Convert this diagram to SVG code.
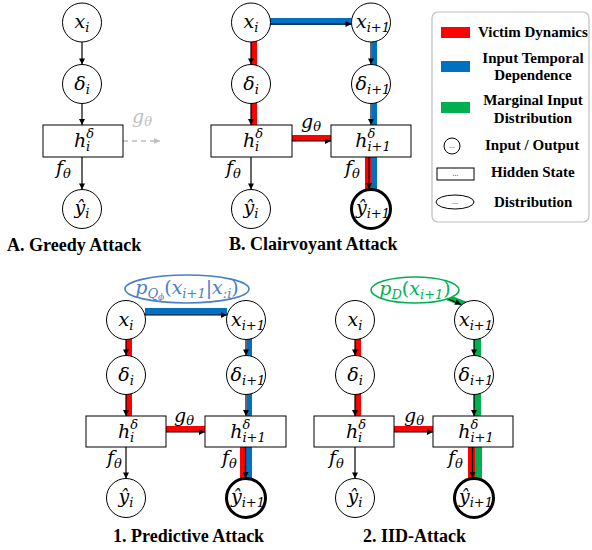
<svg xmlns="http://www.w3.org/2000/svg" width="592" height="550" viewBox="0 0 592 550">
<style>
.nd{fill:#fff;stroke:#000;stroke-width:1}
.bold{stroke-width:3}
.m{font-family:"DejaVu Serif",serif;font-style:italic;font-size:19px;fill:#000}
.s{font-size:13px}
.t{font-family:"Liberation Serif",serif;font-weight:bold;font-size:18px;fill:#000}
.lg{font-family:"Liberation Serif",serif;font-weight:bold;font-size:15px;fill:#000}
.ar{stroke:#000;stroke-width:1.2;fill:none;marker-end:url(#ah)}
.red{fill:#FF0000}
.blue{fill:#0070C0}
.green{fill:#00B050}
</style>
<defs>
<marker id="ah" viewBox="0 0 10 10" refX="10" refY="5" markerWidth="7" markerHeight="6" orient="auto" markerUnits="userSpaceOnUse"><path d="M0,0 L10,5 L0,10 z" fill="#000"/></marker>
<marker id="ahg" viewBox="0 0 10 10" refX="10" refY="5" markerWidth="7" markerHeight="6" orient="auto" markerUnits="userSpaceOnUse"><path d="M0,0 L10,5 L0,10 z" fill="#BFBFBF"/></marker>
</defs>
<rect width="592" height="550" fill="#fff"/>

<!-- connectors: colored bands and arrows -->
<g id="connectors">
  <!-- Panel B bands -->
  <rect class="blue" x="270" y="18" width="82" height="7"/>
  <rect class="red" x="251" y="22" width="6" height="103"/>
  <rect class="blue" x="372" y="22" width="5" height="103"/>
  <rect class="red" x="365" y="157" width="6" height="51"/>
  <rect class="blue" x="371" y="157" width="6" height="51"/>
  <rect class="red" x="292" y="135" width="39" height="6"/>
  <!-- Panel 1 bands -->
  <rect class="blue" x="145" y="308" width="82" height="7"/>
  <rect class="red" x="126" y="320" width="6" height="96"/>
  <rect class="blue" x="247" y="320" width="5" height="96"/>
  <rect class="red" x="240" y="447" width="6" height="51"/>
  <rect class="blue" x="246" y="447" width="6" height="51"/>
  <rect class="red" x="166" y="426" width="39" height="6"/>
  <!-- Panel 2 bands -->
  <line x1="444" y1="296" x2="472" y2="307" stroke="#00B050" stroke-width="6"/>
  <rect class="green" x="474" y="320" width="7" height="96"/>
  <rect class="red" x="355" y="320" width="6" height="96"/>
  <rect class="red" x="468" y="447" width="7" height="51"/>
  <rect class="green" x="475" y="447" width="7" height="51"/>
  <rect class="red" x="394" y="426" width="39" height="6"/>

  <!-- Panel A arrows -->
  <line class="ar" x1="82" y1="42" x2="82" y2="64.5"/>
  <line class="ar" x1="82" y1="103.5" x2="82" y2="125"/>
  <line class="ar" x1="82" y1="157" x2="82" y2="189.5"/>
  <line x1="123" y1="141" x2="160" y2="141" stroke="#BFBFBF" stroke-width="1.5" stroke-dasharray="5,4" marker-end="url(#ahg)"/>
  <!-- Panel B arrows -->
  <line class="ar" x1="270.5" y1="24" x2="351.5" y2="24"/>
  <line class="ar" x1="251" y1="42" x2="251" y2="64.5"/>
  <line class="ar" x1="251" y1="103.5" x2="251" y2="125"/>
  <line class="ar" x1="251" y1="157" x2="251" y2="189.5"/>
  <line class="ar" x1="371" y1="42" x2="371" y2="64.5"/>
  <line class="ar" x1="371" y1="103.5" x2="371" y2="125"/>
  <line class="ar" x1="369" y1="157" x2="369" y2="189"/>
  <line class="ar" x1="292" y1="141" x2="331" y2="141"/>
  <!-- Panel 1 arrows -->
  <line class="ar" x1="145" y1="315" x2="227" y2="315"/>
  <line class="ar" x1="126" y1="339.5" x2="126" y2="355.5"/>
  <line class="ar" x1="126" y1="394.5" x2="126" y2="416"/>
  <line class="ar" x1="126" y1="447" x2="126" y2="478.5"/>
  <line class="ar" x1="246" y1="339.5" x2="246" y2="355.5"/>
  <line class="ar" x1="246" y1="394.5" x2="246" y2="416"/>
  <line class="ar" x1="245.5" y1="447" x2="245.5" y2="478"/>
  <line class="ar" x1="166" y1="432" x2="205" y2="432"/>
  <!-- Panel 2 arrows -->
  <line class="ar" x1="446" y1="298" x2="461" y2="304.5"/>
  <line class="ar" x1="355" y1="339.5" x2="355" y2="355.5"/>
  <line class="ar" x1="355" y1="394.5" x2="355" y2="416"/>
  <line class="ar" x1="355" y1="447" x2="355" y2="478.5"/>
  <line class="ar" x1="474" y1="339.5" x2="474" y2="355.5"/>
  <line class="ar" x1="474" y1="394.5" x2="474" y2="416"/>
  <line class="ar" x1="472.5" y1="447" x2="472.5" y2="478"/>
  <line class="ar" x1="394" y1="432" x2="433" y2="432"/>
</g>

<!-- Panel A -->
<g id="A_x"><circle class="nd" cx="82" cy="22.5" r="19.5"/><text class="m" x="82" y="28" text-anchor="middle">x<tspan class="s" dy="4">i</tspan></text></g>
<g id="A_d"><circle class="nd" cx="82" cy="84" r="19.5"/><text class="m" x="82" y="90" text-anchor="middle">δ<tspan class="s" dy="4">i</tspan></text></g>
<g id="A_h"><rect class="nd" x="43" y="125" width="80" height="32"/><text class="m" x="84" y="147" text-anchor="middle">h<tspan class="s" dy="-9">δ</tspan><tspan class="s" dx="-8" dy="13">i</tspan></text></g>
<g id="A_y"><circle class="nd" cx="82" cy="209" r="19.5"/><text class="m" x="82" y="214" text-anchor="middle">ŷ<tspan class="s" dy="4">i</tspan></text></g>
<g id="A_labels">
  <text class="m" x="56" y="174">f<tspan class="s" dy="4">θ</tspan></text>
  <text class="m" x="132" y="123" style="fill:#BFBFBF">g<tspan class="s" dy="3">θ</tspan></text>
  <text class="t" x="7" y="251">A. Greedy Attack</text>
</g>

<!-- Panel B -->
<g id="B_x1"><circle class="nd" cx="251" cy="22.5" r="19.5"/><text class="m" x="251" y="28" text-anchor="middle">x<tspan class="s" dy="4">i</tspan></text></g>
<g id="B_x2"><circle class="nd" cx="371" cy="22.5" r="19.5"/><text class="m" x="373" y="28" text-anchor="middle">x<tspan class="s" dy="4">i+1</tspan></text></g>
<g id="B_d1"><circle class="nd" cx="251" cy="84" r="19.5"/><text class="m" x="251" y="90" text-anchor="middle">δ<tspan class="s" dy="4">i</tspan></text></g>
<g id="B_d2"><circle class="nd" cx="371" cy="84" r="19.5"/><text class="m" x="373" y="90" text-anchor="middle">δ<tspan class="s" dy="4">i+1</tspan></text></g>
<g id="B_h1"><rect class="nd" x="211" y="125" width="81" height="32"/><text class="m" x="253" y="147" text-anchor="middle">h<tspan class="s" dy="-9">δ</tspan><tspan class="s" dx="-8" dy="13">i</tspan></text></g>
<g id="B_h2"><rect class="nd" x="331" y="125" width="80" height="32"/><text class="m" x="373" y="147" text-anchor="middle">h<tspan class="s" dy="-9">δ</tspan><tspan class="s" dx="-8" dy="13">i+1</tspan></text></g>
<g id="B_y1"><circle class="nd" cx="251" cy="209" r="19.5"/><text class="m" x="251" y="214" text-anchor="middle">ŷ<tspan class="s" dy="4">i</tspan></text></g>
<g id="B_y2"><circle class="nd bold" cx="371" cy="209" r="19.5"/><text class="m" x="373" y="214" text-anchor="middle">ŷ<tspan class="s" dy="4">i+1</tspan></text></g>
<g id="B_labels">
  <text class="m" x="226" y="174">f<tspan class="s" dy="4">θ</tspan></text>
  <text class="m" x="345" y="174">f<tspan class="s" dy="4">θ</tspan></text>
  <text class="m" x="301" y="128">g<tspan class="s" dy="3">θ</tspan></text>
  <text class="t" x="229" y="250">B. Clairvoyant Attack</text>
</g>

<!-- Legend -->
<g id="legend">
  <rect x="432" y="12" width="157" height="210" rx="6" fill="#fff" stroke="#BFBFBF" stroke-width="1.2"/>
  <rect class="red" x="441" y="27" width="29" height="11"/>
  <text class="lg" x="478" y="37">Victim Dynamics</text>
  <rect class="blue" x="441" y="61" width="29" height="11"/>
  <text class="lg" x="533" y="63" text-anchor="middle">Input Temporal</text>
  <text class="lg" x="533" y="80" text-anchor="middle">Dependence</text>
  <rect class="green" x="441" y="102" width="29" height="11"/>
  <text class="lg" x="533" y="105" text-anchor="middle">Marginal Input</text>
  <text class="lg" x="533" y="123" text-anchor="middle">Distribution</text>
  <circle cx="452" cy="146" r="8" fill="#fff" stroke="#000"/>
  <text x="452" y="148" text-anchor="middle" font-family="Liberation Sans,sans-serif" font-size="7">...</text>
  <text class="lg" x="485" y="150">Input / Output</text>
  <rect x="437" y="168" width="37" height="12" fill="#fff" stroke="#000"/>
  <text x="455.5" y="176" text-anchor="middle" font-family="Liberation Sans,sans-serif" font-size="7">...</text>
  <text class="lg" x="491" y="177">Hidden State</text>
  <ellipse cx="455" cy="202" rx="19" ry="7" fill="#fff" stroke="#000"/>
  <text x="455" y="204" text-anchor="middle" font-family="Liberation Sans,sans-serif" font-size="7">...</text>
  <text class="lg" x="494" y="207">Distribution</text>
</g>

<!-- Panel 1 -->
<g id="P1_q"><ellipse cx="187" cy="289" rx="62" ry="14" fill="#fff" stroke="#4A7EC8" stroke-width="1.6"/><text class="m" x="187" y="294" text-anchor="middle" style="fill:#4A7EC8">p<tspan class="s" dy="4">Q</tspan><tspan font-size="9" dy="2">ϕ</tspan><tspan dy="-6" font-style="normal">(</tspan>x<tspan class="s" dy="4">i+1</tspan><tspan dy="-4" font-style="normal">|</tspan>x<tspan class="s" dy="4">:i</tspan><tspan dy="-4" font-style="normal">)</tspan></text></g>
<g id="P1_x1"><circle class="nd" cx="126" cy="320" r="19.5"/><text class="m" x="126" y="326" text-anchor="middle">x<tspan class="s" dy="4">i</tspan></text></g>
<g id="P1_x2"><circle class="nd" cx="246" cy="320" r="19.5"/><text class="m" x="248" y="326" text-anchor="middle">x<tspan class="s" dy="4">i+1</tspan></text></g>
<g id="P1_d1"><circle class="nd" cx="126" cy="375" r="19.5"/><text class="m" x="126" y="381" text-anchor="middle">δ<tspan class="s" dy="4">i</tspan></text></g>
<g id="P1_d2"><circle class="nd" cx="246" cy="375" r="19.5"/><text class="m" x="248" y="381" text-anchor="middle">δ<tspan class="s" dy="4">i+1</tspan></text></g>
<g id="P1_h1"><rect class="nd" x="86" y="416" width="80" height="31"/><text class="m" x="128" y="438" text-anchor="middle">h<tspan class="s" dy="-9">δ</tspan><tspan class="s" dx="-8" dy="13">i</tspan></text></g>
<g id="P1_h2"><rect class="nd" x="205" y="416" width="81" height="31"/><text class="m" x="248" y="438" text-anchor="middle">h<tspan class="s" dy="-9">δ</tspan><tspan class="s" dx="-8" dy="13">i+1</tspan></text></g>
<g id="P1_y1"><circle class="nd" cx="126" cy="498" r="19.5"/><text class="m" x="126" y="503" text-anchor="middle">ŷ<tspan class="s" dy="4">i</tspan></text></g>
<g id="P1_y2"><circle class="nd bold" cx="246" cy="498" r="19.5"/><text class="m" x="248" y="503" text-anchor="middle">ŷ<tspan class="s" dy="4">i+1</tspan></text></g>
<g id="P1_labels">
  <text class="m" x="107" y="464">f<tspan class="s" dy="4">θ</tspan></text>
  <text class="m" x="222" y="464">f<tspan class="s" dy="4">θ</tspan></text>
  <text class="m" x="174" y="422">g<tspan class="s" dy="3">θ</tspan></text>
  <text class="t" x="113" y="542">1. Predictive Attack</text>
</g>

<!-- Panel 2 -->
<g id="P2_p"><ellipse cx="415" cy="290" rx="44" ry="13" fill="#fff" stroke="#00B050" stroke-width="1.6"/><text class="m" x="415" y="295" text-anchor="middle" style="fill:#00B050">p<tspan class="s" dy="4">D</tspan><tspan dy="-4" font-style="normal">(</tspan>x<tspan class="s" dy="4">i+1</tspan><tspan dy="-4" font-style="normal">)</tspan></text></g>
<g id="P2_x1"><circle class="nd" cx="355" cy="320" r="19.5"/><text class="m" x="355" y="326" text-anchor="middle">x<tspan class="s" dy="4">i</tspan></text></g>
<g id="P2_x2"><circle class="nd" cx="474" cy="320" r="19.5"/><text class="m" x="476" y="326" text-anchor="middle">x<tspan class="s" dy="4">i+1</tspan></text></g>
<g id="P2_d1"><circle class="nd" cx="355" cy="375" r="19.5"/><text class="m" x="355" y="381" text-anchor="middle">δ<tspan class="s" dy="4">i</tspan></text></g>
<g id="P2_d2"><circle class="nd" cx="474" cy="375" r="19.5"/><text class="m" x="476" y="381" text-anchor="middle">δ<tspan class="s" dy="4">i+1</tspan></text></g>
<g id="P2_h1"><rect class="nd" x="314" y="416" width="80" height="31"/><text class="m" x="356" y="438" text-anchor="middle">h<tspan class="s" dy="-9">δ</tspan><tspan class="s" dx="-8" dy="13">i</tspan></text></g>
<g id="P2_h2"><rect class="nd" x="433" y="416" width="80" height="31"/><text class="m" x="476" y="438" text-anchor="middle">h<tspan class="s" dy="-9">δ</tspan><tspan class="s" dx="-8" dy="13">i+1</tspan></text></g>
<g id="P2_y1"><circle class="nd" cx="355" cy="498" r="19.5"/><text class="m" x="355" y="503" text-anchor="middle">ŷ<tspan class="s" dy="4">i</tspan></text></g>
<g id="P2_y2"><circle class="nd bold" cx="474" cy="498" r="19.5"/><text class="m" x="476" y="503" text-anchor="middle">ŷ<tspan class="s" dy="4">i+1</tspan></text></g>
<g id="P2_labels">
  <text class="m" x="329" y="464">f<tspan class="s" dy="4">θ</tspan></text>
  <text class="m" x="448" y="464">f<tspan class="s" dy="4">θ</tspan></text>
  <text class="m" x="404" y="422">g<tspan class="s" dy="3">θ</tspan></text>
  <text class="t" x="363" y="542">2. IID-Attack</text>
</g>
</svg>
